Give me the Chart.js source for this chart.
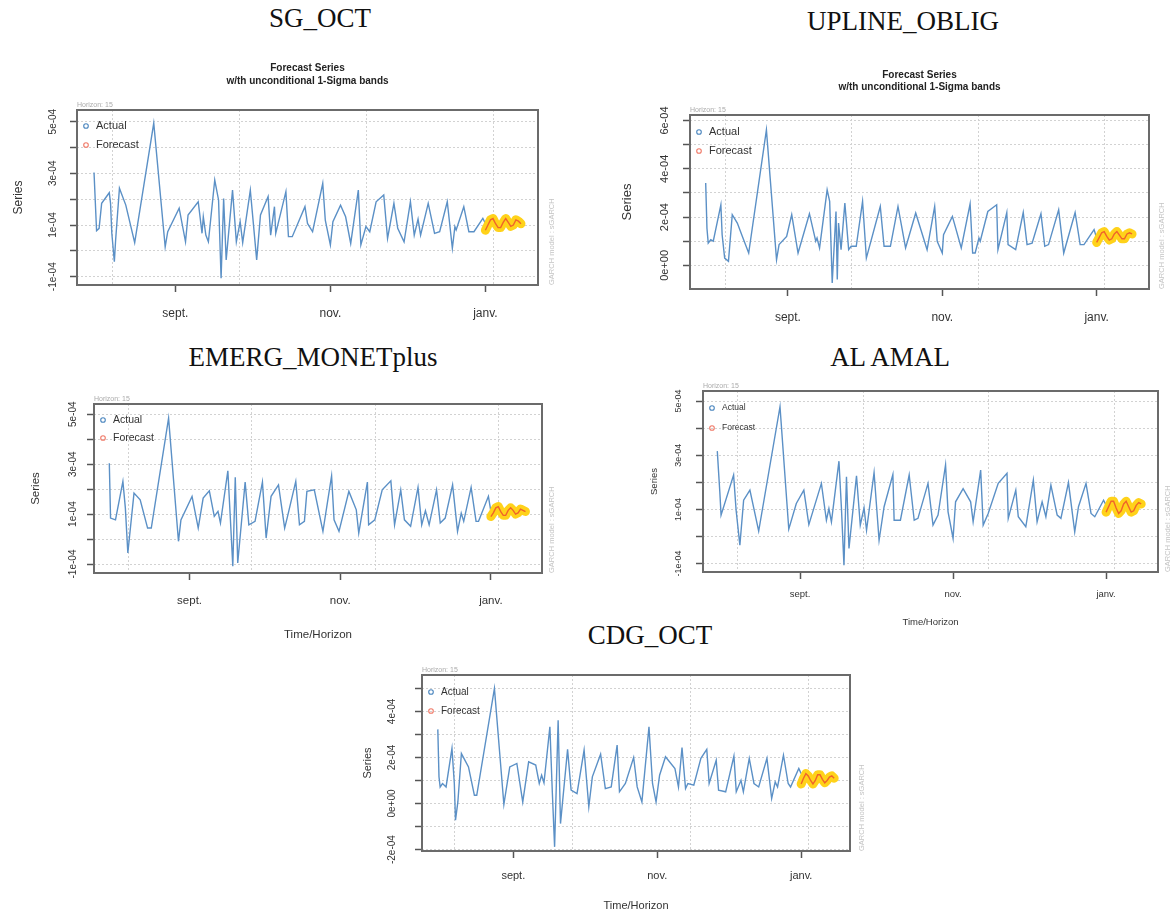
<!DOCTYPE html>
<html>
<head>
<meta charset="utf-8">
<title>GARCH forecast series</title>
<script src="https://cdn.jsdelivr.net/npm/chart.js@4.4.1/dist/chart.umd.min.js"></script>
<style>
  html, body { margin: 0; padding: 0; background: #fff; overflow: hidden; }
  #page { position: relative; width: 1171px; height: 915px; }
  .name { position: absolute; font-family: 'Liberation Serif', 'Times New Roman', serif; font-size: 27px; line-height: 27px; color: #111; white-space: nowrap; transform: translateX(-50%); }
  canvas { position: absolute; }
</style>
</head>
<body>
<div id="page">
  <div class="name" style="left:320px;top:5px">SG_OCT</div>
  <div class="name" style="left:903px;top:8px">UPLINE_OBLIG</div>
  <div class="name" style="left:313px;top:344px">EMERG_MONETplus</div>
  <div class="name" style="left:890px;top:344px">AL AMAL</div>
  <div class="name" style="left:650px;top:622px">CDG_OCT</div>
  <canvas id="c1"></canvas>
  <canvas id="c2"></canvas>
  <canvas id="c3"></canvas>
  <canvas id="c4"></canvas>
  <canvas id="c5"></canvas>
</div>
<script>
'use strict';

// x = days from 1 sept. ; y = series value in units of 1e-04
var MONTH_TICKS = [0, 61, 122];
var MONTH_LABELS = ['sept.', 'nov.', 'janv.'];
var V_GRID = [-25, 25, 75, 125];
var FC_DAYS = [122, 123, 124, 125, 126, 127, 128, 129, 130, 131, 132, 133, 134, 135, 136];

// SG_OCT
var sgDays = [
  -32, -31, -30, -29, -26, -25.5, -25, -24, -23.5, -22,
  -19.5, -16, -8.5, -4, -3, 1.5, 4, 5, 9, 10.5,
  11, 12, 13, 15.5, 17, 18, 19, 20, 22.5, 24,
  25.5, 26.5, 29.5, 32, 33.5, 36.5, 37.5, 39, 39.5, 43.5,
  44.5, 46, 51, 52, 54, 58, 59, 61, 62, 65,
  67, 69, 72, 73, 75, 76.5, 79, 82, 83.5, 86,
  87.5, 90, 92.5, 94, 95.5, 96.5, 99.5, 102, 104, 107,
  109, 110, 110.5, 113.5, 115.5, 117.5, 121, 122
];
var sgVals = [
  3.03, 0.78, 0.87, 1.84, 2.25, 1.84, 0.68, -0.42, 0.42, 2.42,
  1.77, 0.32, 4.94, 0.16, 0.74, 1.65, 0.35, 1.39, 1.9, 0.68,
  1.32, 0.61, 0.35, 2.74, 1.97, -1.06, 2.03, -0.35, 2.35, 0.35,
  1.13, 0.32, 2.35, -0.35, 1.39, 2.1, 0.61, 1.71, 0.68, 2.29,
  0.55, 0.55, 1.71, 1.06, 0.74, 2.61, 1.19, 0.23, 1.13, 1.77,
  1.32, 0.29, 2.35, 0.23, 0.94, 0.74, 1.9, 2.16, 0.48, 1.84,
  0.87, 0.35, 1.9, 0.61, 1.23, 0.61, 1.84, 0.68, 0.74, 1.9,
  0.1, 0.94, 0.81, 1.71, 0.74, 0.74, 1.26, 1.06
];
var sgFc = [0.8, 1.0, 1.2, 1.25, 1.05, 0.9, 0.9, 1.1, 1.25, 1.1, 0.95, 1.0, 1.2, 1.15, 1.05];

// UPLINE_OBLIG
var upDays = [
  -32.5, -32, -31.5, -30.5, -29.5, -26.5, -26, -25, -23.5, -22,
  -20, -18, -15.5, -8.5, -4.5, -3.5, -0.5, 1.5, 4, 8.5,
  11, 11.5, 12.5, 15.5, 16.5, 17.5, 19, 19.5, 20, 21,
  22.5, 24, 25, 27, 29.5, 31, 36.5, 38, 40.5, 43.5,
  46.5, 50.5, 55, 58, 59, 61, 61.5, 65, 68.5, 72,
  73, 74, 75.5, 76, 79, 82.5, 83, 86.5, 87, 90,
  93, 94.5, 96.5, 100, 101.5, 103, 107, 109, 113.5, 115.5,
  117, 121, 122
];
var upVals = [
  3.41, 1.54, 0.92, 1.06, 1.0, 2.51, 1.27, 0.3, 0.17, 2.1,
  1.75, 1.2, 0.51, 5.61, 0.23, 0.86, 1.2, 2.1, 0.51, 2.14,
  1.0, 1.13, 0.72, 3.13, 2.65, -0.73, 2.23, -0.59, 1.75, 0.65,
  2.58, 0.65, 0.79, 0.79, 2.65, 0.3, 2.44, 0.79, 0.79, 2.44,
  0.72, 2.17, 0.65, 2.44, 1.0, 0.51, 1.27, 2.03, 0.72, 2.55,
  0.51, 0.51, 1.13, 1.0, 2.23, 2.51, 0.65, 2.19, 0.86, 0.65,
  2.19, 0.86, 0.92, 2.14, 0.79, 0.86, 2.3, 0.51, 2.19, 0.86,
  0.86, 1.48, 1.13
];
var upFc = [0.95, 1.15, 1.35, 1.4, 1.2, 1.05, 1.1, 1.3, 1.4, 1.25, 1.1, 1.1, 1.3, 1.35, 1.3];

// EMERG_MONETplus
var emDays = [
  -32.5, -32, -30, -27, -26, -25, -22.5, -20, -17, -15.5,
  -8.5, -4.5, -3.5, 1, 3.5, 5.5, 8, 10, 11.5, 12.5,
  15.5, 16.5, 17.5, 18.5, 19.5, 22.5, 24, 26.5, 29.5, 31,
  33, 36, 38.5, 39.5, 43, 44.5, 46.5, 47.5, 50.5, 54,
  57.5, 58.5, 60.5, 64.5, 67.5, 68.5, 72, 72.5, 75, 78,
  81.5, 83, 85.5, 87, 89.5, 92.5, 94, 95.5, 97, 100,
  101.5, 103.5, 106.5, 108.5, 110, 111, 114, 116, 117, 121,
  122
];
var emVals = [
  3.04, 0.84, 0.77, 2.31, 1.24, -0.56, 1.84, 1.57, 0.44, 0.44,
  4.84, -0.09, 0.77, 1.71, 0.44, 1.64, 1.93, 0.91, 1.11, 0.64,
  2.73, 0.84, -1.09, 2.47, -0.96, 2.28, 0.57, 0.71, 2.28, 0.04,
  1.71, 2.17, 0.44, 0.84, 2.31, 0.57, 0.71, 1.91, 1.97, 0.31,
  2.53, 0.77, 0.31, 1.91, 1.17, 0.24, 2.28, 0.57, 0.77, 1.97,
  2.33, 0.57, 1.97, 0.77, 0.51, 2.07, 0.57, 1.13, 0.57, 1.97,
  0.64, 0.84, 2.17, 0.31, 1.04, 0.71, 2.07, 0.71, 0.71, 1.71,
  1.11
];
var emFc = [0.9, 1.05, 1.25, 1.3, 1.1, 0.95, 0.95, 1.15, 1.25, 1.15, 1.0, 1.05, 1.2, 1.15, 1.1];

// AL AMAL
var amDays = [
  -33, -32, -31.5, -26.5, -25.5, -24, -22.5, -20, -16.5, -8,
  -4.5, -1.5, 1.5, 3.5, 8.5, 10.5, 11.5, 12.5, 15.5, 16.5,
  17.5, 18.5, 19.5, 22.5, 24, 25.5, 26.5, 29.5, 31.5, 33.5,
  37, 37.5, 40, 43.5, 45.5, 47, 51, 53, 55, 58,
  59, 61, 62, 65, 68, 69, 72, 73, 75, 79,
  82.5, 83, 86, 87, 90, 93, 94.5, 96.5, 98, 100,
  102.5, 104, 107, 109.5, 111, 114, 116, 117.5, 121, 122
];
var amVals = [
  3.15, 1.65, 0.79, 2.27, 0.97, -0.32, 1.34, 1.71, 0.2, 4.79,
  0.27, 1.22, 1.71, 0.44, 1.96, 0.6, 1.03, 0.54, 2.78, 1.03,
  -1.06, 2.2, -0.44, 2.24, 0.42, 1.06, 0.23, 2.36, -0.14, 1.1,
  2.29, 0.6, 0.6, 2.27, 0.6, 0.67, 1.96, 0.42, 0.79, 2.64,
  0.91, -0.07, 1.28, 1.77, 1.28, 0.54, 2.45, 0.42, 0.85, 1.96,
  2.33, 0.67, 1.71, 0.73, 0.36, 2.08, 0.54, 1.28, 0.73, 1.9,
  0.79, 0.67, 1.99, 0.17, 1.1, 1.96, 0.85, 0.73, 1.34, 1.16
];
var amFc = [0.9, 1.1, 1.3, 1.3, 1.05, 0.85, 0.95, 1.2, 1.3, 1.1, 0.9, 0.95, 1.15, 1.25, 1.2];

// CDG_OCT
var cdDays = [
  -32, -31.5, -31, -30, -28.5, -26, -25, -24.5, -23.5, -22,
  -19, -16.5, -15.5, -8, -4, -1.5, 1.5, 4, 6.5, 9.5,
  11, 12, 13, 15.5, 16.5, 17.5, 19, 20, 23, 24.5,
  27, 30, 32, 33.5, 37, 39, 41.5, 44, 45, 47.5,
  51, 52.5, 54.5, 57.5, 59, 60.5, 62, 64.5, 68.5, 70,
  71.5, 73, 74, 76.5, 79.5, 82, 83, 86, 87, 90,
  93.5, 94.5, 96.5, 97.5, 100, 102, 104, 107.5, 109.5, 111,
  112, 114.5, 116.5, 117.5, 121, 122
];
var cdVals = [
  3.22, 1.16, 0.72, 0.87, 0.72, 2.39, 0.87, -0.72, 0.07, 2.17,
  1.59, 0.36, 0.36, 5.0, -0.03, 1.59, 1.74, 0.07, 1.81, 1.67,
  0.87, 1.23, 0.9, 3.33, 0.58, -1.88, 3.62, -0.87, 2.35, 0.58,
  0.43, 2.32, -0.14, 1.16, 2.14, 0.65, 0.72, 2.54, 0.51, 0.87,
  2.0, 0.72, 0.07, 3.33, 0.87, 0.07, 1.23, 2.03, 1.52, 0.72,
  2.43, 0.65, 0.87, 0.8, 1.96, 2.35, 0.87, 1.88, 0.58, 0.51,
  2.06, 0.51, 1.01, 0.51, 1.96, 0.87, 0.72, 1.96, 0.22, 0.94,
  0.72, 2.1, 0.87, 0.72, 1.52, 1.3
];
var cdFc = [0.85, 1.1, 1.3, 1.2, 1.0, 0.85, 1.0, 1.25, 1.25, 1.05, 0.9, 1.0, 1.15, 1.2, 1.1];

// y ticks (1e-04 units) and their labels, R skips every other label
var yTicksA = [-1, 0, 1, 2, 3, 4, 5];
var yLabelsA = ['-1e-04', '', '1e-04', '', '3e-04', '', '5e-04'];
var yTicksB = [0, 1, 2, 3, 4, 5, 6];
var yLabelsB = ['0e+00', '', '2e-04', '', '4e-04', '', '6e-04'];
var yTicksC = [-2, -1, 0, 1, 2, 3, 4, 5];
var yLabelsC = ['-2e-04', '', '0e+00', '', '2e-04', '', '4e-04', ''];

var X_MIN = -38.7, X_MAX = 142.7;
var YW = 75, PR = 30, XH = 72;
var FONT = '"Liberation Sans", Arial, sans-serif';

Chart.defaults.font.family = FONT;

function pts(xs, ys) {
  return xs.map(function(x, i) { return {x: x, y: ys[i]}; });
}

var rDeco = {
  id: 'rDeco',
  beforeDatasetsDraw: function(chart) {
    var ctx = chart.ctx, a = chart.chartArea, x = chart.scales.x;
    ctx.save();
    ctx.strokeStyle = '#d2d2d2';
    ctx.lineWidth = 1;
    ctx.setLineDash([2, 2]);
    V_GRID.forEach(function(d) {
      var px = Math.round(x.getPixelForValue(d)) + 0.5;
      ctx.beginPath();
      ctx.moveTo(px, a.top);
      ctx.lineTo(px, a.bottom);
      ctx.stroke();
    });
    ctx.restore();
  },
  afterDraw: function(chart, args, o) {
    var ctx = chart.ctx, a = chart.chartArea, y = chart.scales.y;
    ctx.save();
    ctx.strokeStyle = '#6b6b6b';
    ctx.lineWidth = 2;
    ctx.strokeRect(a.left, a.top, a.right - a.left, a.bottom - a.top);

    // vertical tick labels, like R's las=0
    ctx.fillStyle = '#333';
    ctx.font = o.yf + 'px ' + FONT;
    ctx.textAlign = 'center';
    ctx.textBaseline = 'middle';
    o.yTicks.forEach(function(v, i) {
      if (!o.yLabels[i]) return;
      ctx.save();
      ctx.translate(a.left - o.yLabOff, y.getPixelForValue(v));
      ctx.rotate(-Math.PI / 2);
      ctx.fillText(o.yLabels[i], 0, 0);
      ctx.restore();
    });

    // legend
    ctx.lineWidth = 1.1;
    ctx.font = o.lf + 'px ' + FONT;
    ctx.textAlign = 'left';
    [['Actual', '#4b86bf', o.leg[0]], ['Forecast', '#f07a68', o.leg[1]]].forEach(function(l) {
      ctx.strokeStyle = l[1];
      ctx.beginPath();
      ctx.arc(a.left + 9, a.top + l[2], 2.3, 0, Math.PI * 2);
      ctx.stroke();
      ctx.fillStyle = '#333';
      ctx.fillText(l[0], a.left + 19, a.top + l[2]);
    });

    // small notes
    ctx.fillStyle = '#aaa';
    ctx.font = '7px ' + FONT;
    ctx.fillText('Horizon: 15', a.left, a.top - 5);
    ctx.fillStyle = '#c4c4c4';
    ctx.font = '7.5px ' + FONT;
    ctx.save();
    ctx.translate(a.right + o.gOff, a.bottom);
    ctx.rotate(-Math.PI / 2);
    ctx.fillText('GARCH model : sGARCH', 0, 0);
    ctx.restore();

    if (o.sub) {
      ctx.fillStyle = '#222';
      ctx.font = 'bold 10px ' + FONT;
      ctx.textAlign = 'center';
      var cx = (a.left + a.right) / 2;
      ctx.fillText('Forecast Series', cx, a.top + o.sub[0]);
      ctx.fillText('w/th unconditional 1-Sigma bands', cx, a.top + o.sub[1]);
    }
    ctx.restore();
  }
};

function draw(id, c) {
  var b = c.box;
  var W = b.r - b.l + YW + PR, H = b.b - b.t + c.pt + XH;
  var el = document.getElementById(id);
  el.width = W; el.height = H;
  el.style.width = W + 'px'; el.style.height = H + 'px';
  el.style.left = (b.l - YW) + 'px';
  el.style.top = (b.t - c.pt) + 'px';

  new Chart(el, {
    type: 'line',
    data: {
      datasets: [
        { label: 'Forecast', data: pts(FC_DAYS, c.fc), borderColor: '#f0642a', borderWidth: 1.4, pointRadius: 0 },
        { label: 'Sigma band', data: pts(FC_DAYS, c.fc), borderColor: '#ffd21a', borderWidth: 9, pointRadius: 0,
          borderJoinStyle: 'round', borderCapStyle: 'round' },
        { label: 'Actual', data: pts(c.days, c.vals), borderColor: '#5b90c6', borderWidth: 1.4, pointRadius: 0 }
      ]
    },
    options: {
      responsive: false,
      animation: false,
      events: [],
      layout: { autoPadding: false, padding: { left: 0, top: c.pt, right: PR, bottom: 0 } },
      plugins: {
        legend: { display: false },
        tooltip: { enabled: false },
        rDeco: { yTicks: c.yTicks, yLabels: c.yLabels, yf: c.yf, yLabOff: c.yLabOff, lf: c.lf,
                 leg: c.leg, sub: c.sub, gOff: c.gOff }
      },
      scales: {
        x: {
          type: 'linear', min: X_MIN, max: X_MAX,
          afterBuildTicks: function(s) { s.ticks = MONTH_TICKS.map(function(v) { return {value: v}; }); },
          afterFit: function(s) { s.height = XH; },
          ticks: {
            autoSkip: false, maxRotation: 0, color: '#333', padding: c.xpad, font: { size: c.xf },
            callback: function(v) { return MONTH_LABELS[MONTH_TICKS.indexOf(v)]; }
          },
          grid: { drawOnChartArea: false, tickLength: 7, tickColor: '#555', tickWidth: 1.5 },
          border: { display: false },
          title: { display: !!c.xt, text: 'Time/Horizon', color: '#333', font: { size: c.tf },
                   padding: { top: 0, bottom: c.xt || 0 } }
        },
        y: {
          min: c.ymin, max: c.ymax,
          afterBuildTicks: function(s) { s.ticks = c.yTicks.map(function(v) { return {value: v}; }); },
          afterFit: function(s) { s.width = YW; },
          ticks: { display: false },
          grid: { color: '#d2d2d2', tickColor: '#555', tickLength: 7, tickWidth: 1.5, tickBorderDash: [] },
          border: { display: false, dash: [2, 2] },
          title: { display: true, text: 'Series', color: '#333', font: { size: c.tf },
                   padding: { top: c.ytp, bottom: 0 } }
        }
      }
    },
    plugins: [rDeco]
  });
}

draw('c1', { box: {l: 77, t: 110, r: 538, b: 285}, pt: 55, ymin: -1.32, ymax: 5.45,
  days: sgDays, vals: sgVals, fc: sgFc, yTicks: yTicksA, yLabels: yLabelsA,
  xf: 12, yf: 10, tf: 12, lf: 11, ytp: 9, xpad: 14, xt: 0, yLabOff: 24, gOff: 14,
  leg: [16, 35], sub: [-42, -29] });

draw('c2', { box: {l: 690, t: 115, r: 1149, b: 289}, pt: 55, ymin: -0.98, ymax: 6.23,
  days: upDays, vals: upVals, fc: upFc, yTicks: yTicksB, yLabels: yLabelsB,
  xf: 12, yf: 11, tf: 13, lf: 11, ytp: 5, xpad: 14, xt: 0, yLabOff: 25, gOff: 13,
  leg: [17, 36], sub: [-40, -28] });

draw('c3', { box: {l: 94, t: 404, r: 542, b: 573}, pt: 15, ymin: -1.36, ymax: 5.41,
  days: emDays, vals: emVals, fc: emFc, yTicks: yTicksA, yLabels: yLabelsA,
  xf: 11.5, yf: 10, tf: 11.5, lf: 10.5, ytp: 10, xpad: 14, xt: 3.5, yLabOff: 21, gOff: 10,
  leg: [16, 34], sub: null });

draw('c4', { box: {l: 703, t: 391, r: 1158, b: 572}, pt: 15, ymin: -1.31, ymax: 5.37,
  days: amDays, vals: amVals, fc: amFc, yTicks: yTicksA, yLabels: yLabelsA,
  xf: 9.5, yf: 9, tf: 9.5, lf: 8.5, ytp: 21, xpad: 10, xt: 16, yLabOff: 24, gOff: 10,
  leg: [17, 37], sub: null });

draw('c5', { box: {l: 422, t: 675, r: 850, b: 851}, pt: 15, ymin: -2.06, ymax: 5.58,
  days: cdDays, vals: cdVals, fc: cdFc, yTicks: yTicksC, yLabels: yLabelsC,
  xf: 11, yf: 10, tf: 11, lf: 10, ytp: 14, xpad: 11.5, xt: 10, yLabOff: 30, gOff: 12,
  leg: [17, 36], sub: null });
</script>
</body>
</html>
